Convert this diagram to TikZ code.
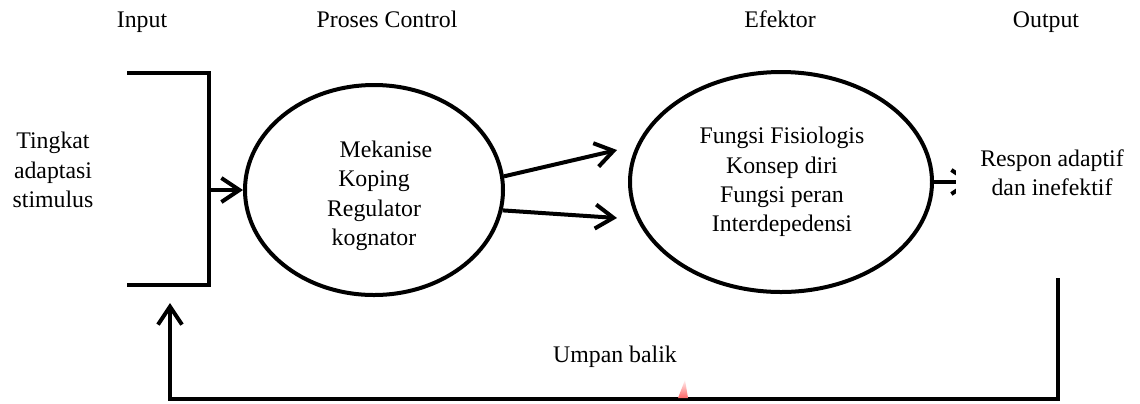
\documentclass[tikz,border=0pt]{standalone}
\usepackage{fontspec}
\setmainfont{Liberation Serif}
\usetikzlibrary{arrows.meta,shapes.geometric}
\begin{document}
\begin{tikzpicture}[x=0.5pt,y=-0.5pt,
  every node/.style={font=\fontsize{11.9}{14.7}\selectfont, inner sep=0pt},
  ln/.style={line width=2pt},
  arr/.style={line width=2pt, -{Straight Barb[length=9pt,width=12pt]}},
  oval/.style={draw, ellipse, line width=2pt, inner sep=0pt},
  lbl/.style={align=center}]
\fill[white] (0,0) rectangle (1140,403);
\useasboundingbox (0,0) rectangle (1140,403);
% headers
\node[anchor=base] (hin) at (142,27) {Input};
\node[anchor=base] (hpc) at (387,27) {Proses Control};
\node[anchor=base] (hef) at (780,27) {Efektor};
\node[anchor=base] (hout) at (1046,27) {Output};
% input text
\node[lbl] (stim) at (53,170) {Tingkat\\adaptasi\\stimulus};
% ellipses
\node[oval, minimum width=129pt, minimum height=105pt] (e1) at (374,190) {};
\node[lbl] (t1) at (374,196) {\hspace*{12pt}Mekanise\\Koping\\Regulator\\kognator};
\node[oval, minimum width=151pt, minimum height=110pt] (e2) at (781,182) {};
\node[lbl] (t2) at (782,182) {Fungsi Fisiologis\\Konsep diri\\Fungsi peran\\Interdepedensi};
% bracket
\coordinate (b1) at (127,73);
\coordinate (b2) at (209,73);
\coordinate (b3) at (209,285);
\coordinate (b4) at (127,285);
\coordinate (bm) at (209,190);
\draw[ln] (b1) -- (b2) -- (b3) -- (b4);
\draw[arr] (bm) -- (e1.west);
% arrows between ellipses
\coordinate (a1) at (617,150);
\coordinate (a2) at (617,218);
\draw[arr] (e1.6.6) -- (a1);
\draw[arr] (e1.-9.3) -- (a2);
% output
\coordinate (rt) at (973,182);
\draw[arr] (e2.east) -- (rt);
\node[lbl, fill=white, minimum width=96pt, minimum height=30pt] (resp) at (1052,173) {Respon adaptif\\dan inefektif};
% feedback
\coordinate (f1) at (1058,278);
\coordinate (f2) at (1058,399);
\coordinate (f3) at (170,399);
\coordinate (f4) at (170,303);
\draw[arr] (f1) -- (f2) -- (f3) -- (f4);
\node[anchor=base] (ub) at (615,362) {Umpan balik};
% faint mark
\shade[top color=red!5, bottom color=red!60] (685,380) -- (688,398) -- (678,398) -- cycle;
\end{tikzpicture}
\end{document}
